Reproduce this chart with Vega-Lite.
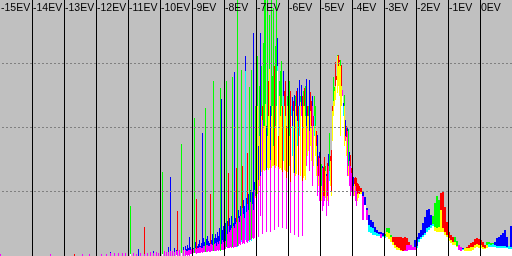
{
"$schema": "https://vega.github.io/schema/vega-lite/v6.json",
"width": 512, "height": 256, "padding": 0, "autosize": {"type": "none"},
"background": "#c0c0c0",
"config": {"view": {"stroke": null}},
"datasets": {
"fine": [
{"e":-15,"r":2,"g":0,"b":2},{"e":-13.4375,"r":2,"g":0,"b":2},{"e":-12.6875,"r":2,"g":0,"b":0},{"e":-12.4375,"r":2,"g":0,"b":2},{"e":-12.21875,"r":2,"g":0,"b":2},
{"e":-11.84375,"r":2,"g":0,"b":2},{"e":-11.6875,"r":2,"g":0,"b":2},{"e":-11.5625,"r":3,"g":0,"b":4},{"e":-11.4375,"r":3,"g":0,"b":3},{"e":-11.3125,"r":3,"g":0,"b":3},
{"e":-11.1875,"r":3,"g":0,"b":3},{"e":-11.09375,"r":3,"g":0,"b":3},
{"e":-10.9375,"r":2,"g":50,"b":2},{"e":-10.84375,"r":3,"g":0,"b":3},{"e":-10.75,"r":2,"g":0,"b":2},{"e":-10.6875,"r":0,"g":0,"b":7},{"e":-10.625,"r":3,"g":0,"b":3},
{"e":-10.5,"r":29,"g":0,"b":2},{"e":-10.40625,"r":3,"g":0,"b":3},{"e":-10.3125,"r":4,"g":0,"b":4},{"e":-10.21875,"r":3,"g":0,"b":5},{"e":-10.125,"r":4,"g":0,"b":4},
{"e":-10.0625,"r":3,"g":0,"b":3},{"e":-10,"r":3,"g":0,"b":4},{"e":-9.9375,"r":2,"g":84,"b":2},{"e":-9.875,"r":5,"g":0,"b":5},{"e":-9.8125,"r":4,"g":0,"b":4},
{"e":-9.75,"r":4,"g":0,"b":9},{"e":-9.6875,"r":5,"g":0,"b":79},{"e":-9.625,"r":5,"g":0,"b":5},{"e":-9.5625,"r":4,"g":0,"b":8},{"e":-9.5,"r":5,"g":1,"b":6},
{"e":-9.46875,"r":45,"g":0,"b":5},{"e":-9.40625,"r":6,"g":0,"b":6},{"e":-9.34375,"r":3,"g":112,"b":3},{"e":-9.28125,"r":6,"g":0,"b":9},{"e":-9.21875,"r":6,"g":0,"b":10},
{"e":-9.1875,"r":5,"g":1,"b":7},{"e":-9.15625,"r":5,"g":0,"b":11},{"e":-9.125,"r":6,"g":1,"b":8},{"e":-9.09375,"r":6,"g":0,"b":19},
{"e":-9.0625,"r":6,"g":2,"b":9},{"e":-9.03125,"r":7,"g":2,"b":7},{"e":-9,"r":6,"g":2,"b":12},{"e":-8.96875,"r":7,"g":3,"b":8},{"e":-8.9375,"r":3,"g":138,"b":3},
{"e":-8.90625,"r":8,"g":3,"b":14},{"e":-8.875,"r":57,"g":2,"b":7},{"e":-8.84375,"r":8,"g":3,"b":10},{"e":-8.8125,"r":8,"g":3,"b":12},{"e":-8.78125,"r":9,"g":3,"b":16},
{"e":-8.75,"r":9,"g":3,"b":10},{"e":-8.71875,"r":8,"g":4,"b":13},{"e":-8.6875,"r":8,"g":3,"b":123},{"e":-8.65625,"r":10,"g":4,"b":18},{"e":-8.625,"r":10,"g":4,"b":14},
{"e":-8.59375,"r":4,"g":148,"b":4},{"e":-8.5625,"r":11,"g":4,"b":17},{"e":-8.53125,"r":11,"g":4,"b":20},{"e":-8.5,"r":10,"g":5,"b":15},{"e":-8.46875,"r":10,"g":4,"b":13},
{"e":-8.4375,"r":62,"g":4,"b":12},{"e":-8.40625,"r":12,"g":5,"b":16},{"e":-8.375,"r":11,"g":5,"b":22},{"e":-8.34375,"r":5,"g":175,"b":5},{"e":-8.3125,"r":12,"g":5,"b":18},
{"e":-8.28125,"r":13,"g":5,"b":22},{"e":-8.25,"r":10,"g":5,"b":18},{"e":-8.21875,"r":14,"g":6,"b":24},{"e":-8.1875,"r":12,"g":5,"b":20},{"e":-8.15625,"r":15,"g":6,"b":28},
{"e":-8.125,"r":5,"g":168,"b":5},{"e":-8.09375,"r":12,"g":6,"b":157},{"e":-8.0625,"r":16,"g":6,"b":26},{"e":-8.03125,"r":14,"g":6,"b":30},{"e":-8,"r":18,"g":7,"b":25},
{"e":-7.96875,"r":15,"g":7,"b":33},{"e":-7.9375,"r":9,"g":175,"b":9},{"e":-7.90625,"r":22,"g":8,"b":35},{"e":-7.875,"r":83,"g":8,"b":30},{"e":-7.84375,"r":24,"g":8,"b":38},
{"e":-7.8125,"r":26,"g":9,"b":31},{"e":-7.78125,"r":28,"g":8,"b":40},{"e":-7.75,"r":9,"g":179,"b":9},{"e":-7.71875,"r":30,"g":8,"b":33},{"e":-7.6875,"r":28,"g":9,"b":184},
{"e":-7.65625,"r":32,"g":9,"b":38},{"e":-7.625,"r":88,"g":9,"b":34},{"e":-7.59375,"r":9,"g":256,"b":10},
{"e":-7.5625,"r":38,"g":10,"b":46},{"e":-7.53125,"r":34,"g":12,"b":40},{"e":-7.5,"r":40,"g":11,"b":50},{"e":-7.46875,"r":14,"g":186,"b":16},{"e":-7.4375,"r":90,"g":12,"b":48},
{"e":-7.40625,"r":42,"g":13,"b":56},{"e":-7.375,"r":38,"g":12,"b":50},{"e":-7.34375,"r":16,"g":185,"b":200},{"e":-7.3125,"r":44,"g":14,"b":58},{"e":-7.28125,"r":103,"g":13,"b":52},
{"e":-7.25,"r":46,"g":15,"b":62},{"e":-7.21875,"r":14,"g":169,"b":16},{"e":-7.1875,"r":54,"g":16,"b":66},{"e":-7.15625,"r":15,"g":186,"b":17},{"e":-7.125,"r":52,"g":18,"b":64},
{"e":-7.09375,"r":46,"g":17,"b":223},{"e":-7.0625,"r":66,"g":18,"b":74},{"e":-7.03125,"r":60,"g":150,"b":58},
{"e":-7,"r":60,"g":120,"b":58},{"e":-6.96875,"r":150,"g":200,"b":62},{"e":-6.9375,"r":76,"g":19,"b":110},{"e":-6.90625,"r":120,"g":170,"b":70},{"e":-6.875,"r":80,"g":40,"b":223},
{"e":-6.84375,"r":140,"g":190,"b":84},{"e":-6.8125,"r":150,"g":22,"b":136},{"e":-6.78125,"r":130,"g":213,"b":86},{"e":-6.75,"r":130,"g":256,"b":85},{"e":-6.71875,"r":152,"g":256,"b":86},
{"e":-6.6875,"r":86,"g":24,"b":130},{"e":-6.65625,"r":120,"g":256,"b":88},{"e":-6.625,"r":175,"g":140,"b":86},{"e":-6.59375,"r":187,"g":241,"b":88},{"e":-6.5625,"r":96,"g":24,"b":150},
{"e":-6.53125,"r":140,"g":256,"b":88},{"e":-6.5,"r":150,"g":180,"b":90},{"e":-6.46875,"r":110,"g":248,"b":90},{"e":-6.4375,"r":190,"g":26,"b":91},{"e":-6.40625,"r":130,"g":210,"b":88},
{"e":-6.375,"r":150,"g":256,"b":90},{"e":-6.34375,"r":185,"g":190,"b":218},{"e":-6.3125,"r":120,"g":29,"b":89},{"e":-6.28125,"r":160,"g":175,"b":87},{"e":-6.25,"r":140,"g":185,"b":88},
{"e":-6.21875,"r":150,"g":195,"b":86},{"e":-6.1875,"r":150,"g":28,"b":84},{"e":-6.15625,"r":95,"g":160,"b":185},{"e":-6.125,"r":165,"g":150,"b":86},{"e":-6.09375,"r":175,"g":140,"b":85},
{"e":-6.0625,"r":130,"g":27,"b":78},{"e":-6.03125,"r":150,"g":160,"b":84},{"e":-6,"r":130,"g":150,"b":84},{"e":-5.96875,"r":120,"g":175,"b":90},{"e":-5.9375,"r":165,"g":23,"b":74},
{"e":-5.90625,"r":140,"g":150,"b":150},{"e":-5.875,"r":100,"g":130,"b":159},{"e":-5.84375,"r":155,"g":145,"b":83},{"e":-5.8125,"r":83,"g":21,"b":161},{"e":-5.78125,"r":150,"g":160,"b":80},
{"e":-5.75,"r":165,"g":140,"b":82},{"e":-5.71875,"r":110,"g":135,"b":168},{"e":-5.6875,"r":150,"g":19,"b":81},{"e":-5.65625,"r":120,"g":150,"b":176},{"e":-5.625,"r":154,"g":160,"b":80},
{"e":-5.59375,"r":150,"g":140,"b":171},{"e":-5.5625,"r":160,"g":20,"b":75},{"e":-5.53125,"r":150,"g":165,"b":78},{"e":-5.5,"r":168,"g":150,"b":80},{"e":-5.46875,"r":140,"g":170,"b":76},
{"e":-5.4375,"r":130,"g":90,"b":177},{"e":-5.40625,"r":150,"g":140,"b":100},{"e":-5.375,"r":140,"g":150,"b":105},{"e":-5.34375,"r":125,"g":85,"b":176},{"e":-5.3125,"r":164,"g":145,"b":110},
{"e":-5.28125,"r":155,"g":130,"b":95},{"e":-5.25,"r":150,"g":70,"b":160},{"e":-5.21875,"r":140,"g":130,"b":90},{"e":-5.1875,"r":120,"g":160,"b":140},{"e":-5.15625,"r":130,"g":150,"b":100},
{"e":-5.125,"r":125,"g":110,"b":80},{"e":-5.09375,"r":90,"g":60,"b":121},{"e":-5.0625,"r":100,"g":80,"b":70},{"e":-5.03125,"r":98,"g":55,"b":104},{"e":-5,"r":80,"g":70,"b":60},
{"e":-4.96875,"r":70,"g":92,"b":55},{"e":-4.9375,"r":88,"g":45,"b":90},{"e":-4.90625,"r":89,"g":50,"b":60},{"e":-4.875,"r":99,"g":55,"b":60},{"e":-4.84375,"r":85,"g":90,"b":58},
{"e":-4.8125,"r":80,"g":40,"b":82},{"e":-4.78125,"r":93,"g":60,"b":55},{"e":-4.75,"r":90,"g":50,"b":102},{"e":-4.71875,"r":75,"g":123,"b":85},{"e":-4.6875,"r":100,"g":95,"b":70},
{"e":-4.65625,"r":106,"g":65,"b":60},{"e":-4.625,"r":150,"g":145,"b":115},{"e":-4.59375,"r":155,"g":179,"b":140},{"e":-4.5625,"r":165,"g":169,"b":150},{"e":-4.53125,"r":194,"g":170,"b":156},
{"e":-4.5,"r":180,"g":176,"b":176},{"e":-4.46875,"r":200,"g":201,"b":163},{"e":-4.4375,"r":201,"g":190,"b":170},{"e":-4.40625,"r":196,"g":194,"b":160},{"e":-4.375,"r":190,"g":196,"b":120},
{"e":-4.34375,"r":191,"g":170,"b":150},{"e":-4.3125,"r":166,"g":160,"b":166},{"e":-4.28125,"r":140,"g":150,"b":153},{"e":-4.25,"r":150,"g":161,"b":110},{"e":-4.21875,"r":120,"g":115,"b":136},
{"e":-4.1875,"r":130,"g":119,"b":100},{"e":-4.15625,"r":125,"g":80,"b":128},{"e":-4.125,"r":90,"g":127,"b":80},{"e":-4.09375,"r":95,"g":70,"b":104},{"e":-4.0625,"r":101,"g":60,"b":90},
{"e":-4.03125,"r":88,"g":65,"b":83},{"e":-4,"r":80,"g":60,"b":70},{"e":-3.96875,"r":70,"g":60,"b":79},{"e":-3.9375,"r":78,"g":72,"b":60},{"e":-3.90625,"r":79,"g":55,"b":70},
{"e":-3.875,"r":78,"g":50,"b":65},{"e":-3.84375,"r":73,"g":62,"b":55},{"e":-3.8125,"r":72,"g":63,"b":58},{"e":-3.78125,"r":70,"g":62,"b":62}
],
"coarse": [
{"e":-3.75,"r":68,"g":64,"b":62},{"e":-3.6875,"r":60,"g":36,"b":64},{"e":-3.625,"r":51,"g":51,"b":59},{"e":-3.5625,"r":46,"g":36,"b":48},{"e":-3.5,"r":24,"g":31,"b":41},
{"e":-3.4375,"r":23,"g":29,"b":36},{"e":-3.375,"r":21,"g":28,"b":34},{"e":-3.3125,"r":21,"g":24,"b":29},{"e":-3.25,"r":20,"g":23,"b":26},{"e":-3.1875,"r":20,"g":22,"b":24},
{"e":-3.125,"r":22,"g":18,"b":24},{"e":-3.0625,"r":19,"g":20,"b":23},{"e":-3,"r":18,"g":22,"b":20},{"e":-2.9375,"r":24,"g":28,"b":19},{"e":-2.875,"r":23,"g":28,"b":17},
{"e":-2.8125,"r":19,"g":21,"b":14},{"e":-2.75,"r":19,"g":14,"b":11},{"e":-2.6875,"r":19,"g":11,"b":8},{"e":-2.625,"r":19,"g":9,"b":6},{"e":-2.5625,"r":19,"g":8,"b":6},
{"e":-2.5,"r":19,"g":6,"b":5},{"e":-2.4375,"r":18,"g":5,"b":5},{"e":-2.375,"r":19,"g":5,"b":6},{"e":-2.3125,"r":18,"g":5,"b":11},{"e":-2.25,"r":14,"g":6,"b":11},
{"e":-2.1875,"r":11,"g":6,"b":11},{"e":-2.125,"r":9,"g":6,"b":9},{"e":-2.0625,"r":9,"g":6,"b":16},{"e":-2,"r":8,"g":10,"b":19},{"e":-1.9375,"r":14,"g":17,"b":23},
{"e":-1.875,"r":17,"g":19,"b":26},{"e":-1.8125,"r":19,"g":21,"b":33},{"e":-1.75,"r":21,"g":23,"b":39},{"e":-1.6875,"r":24,"g":28,"b":46},{"e":-1.625,"r":26,"g":29,"b":47},
{"e":-1.5625,"r":28,"g":31,"b":41},{"e":-1.5,"r":30,"g":40,"b":32},{"e":-1.4375,"r":29,"g":53,"b":25},{"e":-1.375,"r":28,"g":60,"b":24},{"e":-1.3125,"r":29,"g":56,"b":24},
{"e":-1.25,"r":63,"g":46,"b":24},{"e":-1.1875,"r":64,"g":28,"b":24},{"e":-1.125,"r":49,"g":24,"b":21},{"e":-1.0625,"r":34,"g":21,"b":19},{"e":-1,"r":24,"g":18,"b":15},
{"e":-0.9375,"r":21,"g":16,"b":13},{"e":-0.875,"r":19,"g":14,"b":11},{"e":-0.8125,"r":14,"g":19,"b":11},{"e":-0.75,"r":10,"g":15,"b":9},{"e":-0.6875,"r":11,"g":6,"b":11},
{"e":-0.625,"r":9,"g":5,"b":9},{"e":-0.5625,"r":6,"g":7,"b":8},{"e":-0.5,"r":8,"g":8,"b":5},{"e":-0.4375,"r":9,"g":8,"b":5},{"e":-0.375,"r":11,"g":8,"b":5},
{"e":-0.3125,"r":13,"g":9,"b":5},{"e":-0.25,"r":14,"g":9,"b":6},{"e":-0.1875,"r":17,"g":11,"b":8},{"e":-0.125,"r":18,"g":12,"b":9},{"e":-0.0625,"r":17,"g":11,"b":8},
{"e":0,"r":16,"g":11,"b":8},{"e":0.0625,"r":14,"g":9,"b":7},{"e":0.125,"r":11,"g":8,"b":7},{"e":0.1875,"r":11,"g":14,"b":8},{"e":0.25,"r":9,"g":14,"b":12},
{"e":0.3125,"r":9,"g":13,"b":11},{"e":0.375,"r":9,"g":13,"b":12},{"e":0.4375,"r":9,"g":11,"b":14},{"e":0.5,"r":8,"g":10,"b":18},{"e":0.5625,"r":8,"g":10,"b":19},
{"e":0.625,"r":8,"g":10,"b":21},{"e":0.6875,"r":8,"g":10,"b":23},{"e":0.75,"r":8,"g":10,"b":26},{"e":0.8125,"r":8,"g":9,"b":19},{"e":0.875,"r":7,"g":10,"b":10},
{"e":0.9375,"r":7,"g":9,"b":30}
],
"lines": [{"e":-14},{"e":-13},{"e":-12},{"e":-11},{"e":-10},{"e":-9},{"e":-8},{"e":-7},{"e":-6},{"e":-5},{"e":-4},{"e":-3},{"e":-2},{"e":-1},{"e":0}],
"labels": [{"e":-15,"t":"-15EV"},{"e":-14,"t":"-14EV"},{"e":-13,"t":"-13EV"},{"e":-12,"t":"-12EV"},{"e":-11,"t":"-11EV"},{"e":-10,"t":"-10EV"},{"e":-9,"t":"-9EV"},{"e":-8,"t":"-8EV"},
 {"e":-7,"t":"-7EV"},{"e":-6,"t":"-6EV"},{"e":-5,"t":"-5EV"},{"e":-4,"t":"-4EV"},{"e":-3,"t":"-3EV"},{"e":-2,"t":"-2EV"},{"e":-1,"t":"-1EV"},{"e":0,"t":"0EV"}],
"grid": [{"y":64},{"y":128},{"y":192}]
},
"layer": [
{"data": {"name": "fine"}, "transform": [{"fold": ["r","g","b"], "as": ["ch","v"]}],
 "mark": {"type": "bar", "orient": "vertical", "width": 1, "xOffset": 0.5, "color": "#000000"},
 "encoding": {
  "x": {"field": "e", "type": "quantitative", "scale": {"domain": [-15, 1], "nice": false, "zero": false, "padding": 0}, "axis": null},
  "y": {"field": "v", "type": "quantitative", "stack": null, "scale": {"domain": [0, 256], "nice": false, "padding": 0}, "axis": null}}},
{"data": {"name": "coarse"}, "transform": [{"fold": ["r","g","b"], "as": ["ch","v"]}],
 "mark": {"type": "bar", "orient": "vertical", "width": 2, "xOffset": 1, "color": "#000000"},
 "encoding": {
  "x": {"field": "e", "type": "quantitative", "axis": null},
  "y": {"field": "v", "type": "quantitative", "stack": null, "axis": null}}},
{"data": {"name": "fine"}, "transform": [{"fold": ["r","g","b"], "as": ["ch","v"]}],
 "mark": {"type": "bar", "orient": "vertical", "width": 1, "xOffset": 0.5, "blend": "lighten"},
 "encoding": {
  "x": {"field": "e", "type": "quantitative", "axis": null},
  "y": {"field": "v", "type": "quantitative", "stack": null, "axis": null},
  "color": {"field": "ch", "type": "nominal", "scale": {"domain": ["r","g","b"], "range": ["#ff0000","#00ff00","#0000ff"]}, "legend": null}}},
{"data": {"name": "coarse"}, "transform": [{"fold": ["r","g","b"], "as": ["ch","v"]}],
 "mark": {"type": "bar", "orient": "vertical", "width": 2, "xOffset": 1, "blend": "lighten"},
 "encoding": {
  "x": {"field": "e", "type": "quantitative", "axis": null},
  "y": {"field": "v", "type": "quantitative", "stack": null, "axis": null},
  "color": {"field": "ch", "type": "nominal", "legend": null}}},
{"data": {"name": "lines"},
 "mark": {"type": "rule", "color": "#000000", "strokeWidth": 1, "xOffset": 0.5},
 "encoding": {"x": {"field": "e", "type": "quantitative", "axis": null}}},
{"data": {"name": "grid"},
 "mark": {"type": "rule", "color": "#808080", "strokeWidth": 1, "strokeDash": [2, 2], "yOffset": -0.5},
 "encoding": {"y": {"field": "y", "type": "quantitative", "axis": null}}},
{"data": {"name": "labels"},
 "mark": {"type": "text", "align": "left", "baseline": "top", "dx": 1, "dy": 2.5, "font": "Liberation Sans", "fontSize": 10.5, "color": "#000000"},
 "encoding": {
  "x": {"field": "e", "type": "quantitative", "axis": null},
  "y": {"datum": 256, "type": "quantitative", "axis": null},
  "text": {"field": "t"}}}
]
}
